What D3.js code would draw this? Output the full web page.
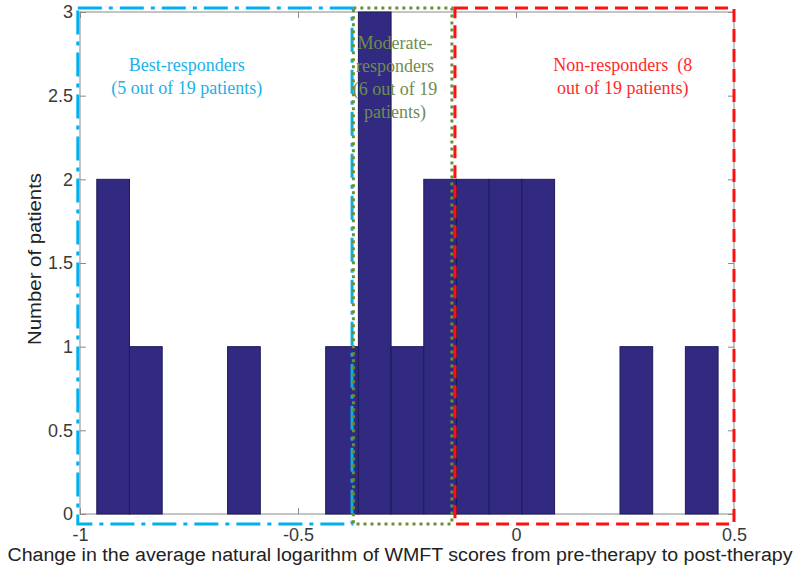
<!DOCTYPE html>
<html>
<head>
<meta charset="utf-8">
<script src="https://cdn.jsdelivr.net/npm/d3@7"></script>
<style>
  body { margin: 0; background: #fff; }
  svg { display: block; }
  .tick text { font-family: "Liberation Sans", Arial, sans-serif; font-size: 18px; fill: #3a3a3a; }
  .group-label { white-space: pre; }
</style>
</head>
<body>
<div id="chart"></div>
<script>
// histogram bins (centres) and patient counts
var binCenters = [-0.924, -0.849, -0.774, -0.699, -0.624, -0.549, -0.474, -0.399, -0.324, -0.249,
                  -0.174, -0.099, -0.024, 0.051, 0.126, 0.201, 0.276, 0.351, 0.426];
var counts = [2, 1, 0, 0, 1, 0, 0, 1, 3, 1, 2, 2, 2, 2, 0, 0, 1, 0, 1];
var binWidth = 0.075;

var xTicks = [-1, -0.5, 0, 0.5];
var yTicks = [0, 0.5, 1, 1.5, 2, 2.5, 3];

// responder groups (x ranges in data units) and their labels
var groupNames = ["best", "moderate", "non"];
var groupFrom = [-1.005, -0.373, -0.140];
var groupTo = [-0.376, -0.147, 0.5];
var groupLabels = [
  ["Best-responders", "(5 out of 19 patients)"],
  ["Moderate-", "responders", "(6 out of 19", "patients)"],
  ["Non-responders  (8", "out of 19 patients)"]
];

var svgWidth = 800, svgHeight = 578;
var margin = { top: 12, right: 66, bottom: 64, left: 80 };
var width = svgWidth - margin.left - margin.right;
var height = svgHeight - margin.top - margin.bottom;

var svg = d3.select("#chart").append("svg")
  .attr("width", svgWidth)
  .attr("height", svgHeight);

var g = svg.append("g")
  .attr("transform", `translate(${margin.left}, ${margin.top})`);

var x = d3.scaleLinear().domain([-1, 0.5]).range([0, width]);
var y = d3.scaleLinear().domain([0, 3]).range([height, 0]);

// styles for the group boxes
var boxStyle = {
  best: { color: "#00b0f0", dash: "24,7,4,7", text: "#1ab2ea", cx: -0.755, top: 59 },
  moderate: { color: "#6b8e3a", dash: "3,4", text: "#6f8c4d", cx: -0.2775, top: 37 },
  non: { color: "#ff1010", dash: "13,7", text: "#ff2a2a", cx: 0.245, top: 59 }
};

// axes (MATLAB style: inward ticks, box on)
var axisColor = "#8a8a8a";
var bottomAxis = d3.axisBottom(x).tickValues(xTicks).tickSize(-6).tickPadding(18)
  .tickFormat(d => d === 0 ? "0" : String(d));
var topAxis = d3.axisTop(x).tickValues(xTicks).tickSize(-6).tickFormat("");
var leftAxis = d3.axisLeft(y).tickValues(yTicks).tickSize(-6).tickPadding(7)
  .tickFormat(d => String(d));
var rightAxis = d3.axisRight(y).tickValues(yTicks).tickSize(-6).tickFormat("");

function styleAxis(sel) {
  sel.selectAll("path").attr("stroke", axisColor);
  sel.selectAll("line").attr("stroke", axisColor);
}

g.append("g").attr("transform", `translate(0, ${height})`).call(bottomAxis).call(styleAxis)
  .selectAll("text").attr("dy", "0.5em");
g.append("g").call(topAxis).call(styleAxis);
g.append("g").call(leftAxis).call(styleAxis);
g.append("g").attr("transform", `translate(${width}, 0)`).call(rightAxis).call(styleAxis);
g.selectAll(".domain").attr("d", null);
g.append("rect")
  .attr("x", 0).attr("y", 0).attr("width", width).attr("height", height)
  .attr("fill", "none").attr("stroke", axisColor);

// bars
g.selectAll("rect.bar")
  .data(binCenters.map((c, i) => ({ c: c, n: counts[i] })).filter(d => d.n > 0))
  .enter()
  .append("rect")
  .attr("class", "bar")
  .attr("x", d => x(d.c - binWidth / 2))
  .attr("width", d => x(d.c + binWidth / 2) - x(d.c - binWidth / 2))
  .attr("y", d => y(d.n))
  .attr("height", d => y(0) - y(d.n))
  .attr("fill", "#312a80")
  .attr("stroke", "#1e1b5a")
  .attr("stroke-width", 1);

// group boxes
var yBoxTop = 3.024, yBoxBottom = -0.06;
groupNames.forEach(function(name, i) {
  var s = boxStyle[name];
  g.append("rect")
    .attr("x", x(groupFrom[i]))
    .attr("y", y(yBoxTop))
    .attr("width", x(groupTo[i]) - x(groupFrom[i]))
    .attr("height", y(yBoxBottom) - y(yBoxTop))
    .attr("fill", "none")
    .attr("stroke", s.color)
    .attr("stroke-width", 3)
    .attr("stroke-dasharray", s.dash);
});

// group labels
groupNames.forEach(function(name, i) {
  var s = boxStyle[name];
  var t = g.append("text")
    .attr("class", "group-label")
    .attr("text-anchor", "middle")
    .attr("font-family", "'Liberation Serif', 'Times New Roman', serif")
    .attr("font-size", "18px")
    .attr("fill", s.text);
  groupLabels[i].forEach(function(line, j) {
    t.append("tspan")
      .attr("x", x(s.cx))
      .attr("y", s.top + j * 23)
      .text(line);
  });
});

// axis titles
svg.append("text")
  .attr("x", svgWidth / 2)
  .attr("y", 561)
  .attr("text-anchor", "middle")
  .attr("font-family", "'Liberation Sans', Arial, sans-serif")
  .attr("font-size", "18px")
  .attr("fill", "#222")
  .attr("textLength", 785)
  .attr("lengthAdjust", "spacingAndGlyphs")
  .text("Change in the average natural logarithm of WMFT scores from pre-therapy to post-therapy");

svg.append("text")
  .attr("transform", "translate(41, 259) rotate(-90)")
  .attr("text-anchor", "middle")
  .attr("font-family", "'Liberation Sans', Arial, sans-serif")
  .attr("font-size", "18px")
  .attr("fill", "#222")
  .attr("textLength", 172)
  .attr("lengthAdjust", "spacingAndGlyphs")
  .text("Number of patients");
</script>
</body>
</html>
